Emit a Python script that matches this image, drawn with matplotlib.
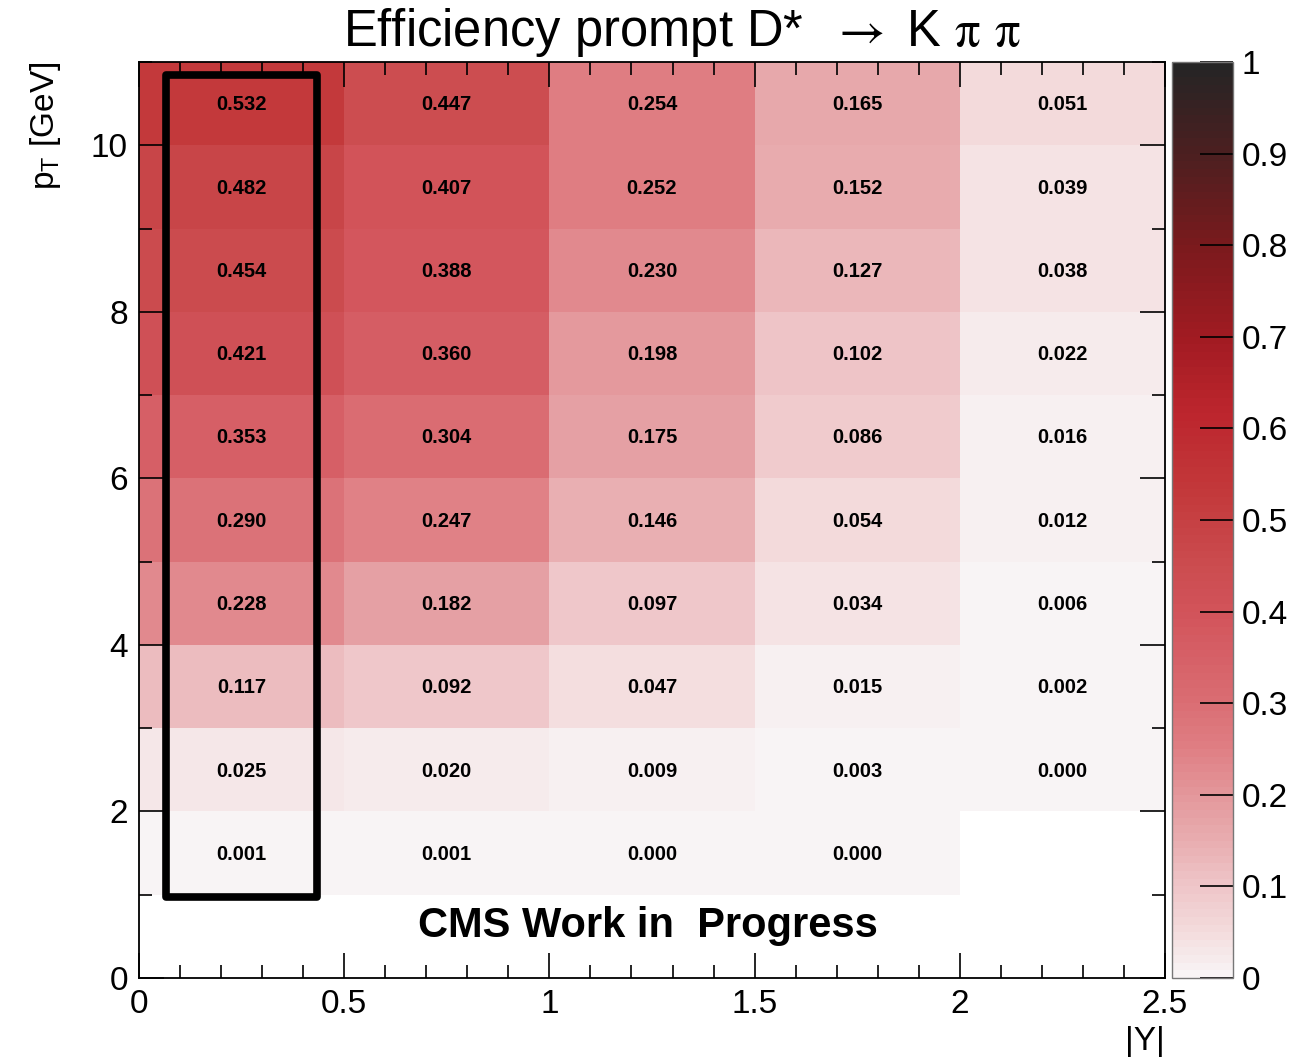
import matplotlib

matplotlib.use("Agg")
import matplotlib.pyplot as plt
from matplotlib.colors import LinearSegmentedColormap
from matplotlib.patches import FancyBboxPatch
from matplotlib.ticker import MultipleLocator
import numpy as np

# |Y| and pT bin edges
y_edges = [0.0, 0.5, 1.0, 1.5, 2.0, 2.5]
pt_edges = [1, 2, 3, 4, 5, 6, 7, 8, 9, 10, 11]

# efficiency per bin, rows from low pT (1-2 GeV) to high pT (10-11 GeV)
eff_rows = [
    [0.001, 0.001, 0.000, 0.000, np.nan],
    [0.025, 0.020, 0.009, 0.003, 0.000],
    [0.117, 0.092, 0.047, 0.015, 0.002],
    [0.228, 0.182, 0.097, 0.034, 0.006],
    [0.290, 0.247, 0.146, 0.054, 0.012],
    [0.353, 0.304, 0.175, 0.086, 0.016],
    [0.421, 0.360, 0.198, 0.102, 0.022],
    [0.454, 0.388, 0.230, 0.127, 0.038],
    [0.482, 0.407, 0.252, 0.152, 0.039],
    [0.532, 0.447, 0.254, 0.165, 0.051],
]

# highlighted |Y| < 0.5 column
box_lo = (0.067, 0.97)
box_hi = (0.434, 10.85)

x_ticks = [0, 0.5, 1, 1.5, 2, 2.5]
x_tick_labels = ["0", "0.5", "1", "1.5", "2", "2.5"]
y_ticks = [0, 2, 4, 6, 8, 10]
z_ticks = [0, 0.1, 0.2, 0.3, 0.4, 0.5, 0.6, 0.7, 0.8, 0.9, 1]
z_tick_labels = ["0", "0.1", "0.2", "0.3", "0.4", "0.5", "0.6", "0.7", "0.8", "0.9", "1"]

FONT = ["Liberation Sans", "DejaVu Sans"]


def make_palette():
    stops = [
        (0.00, "#f8f4f5"),
        (0.05, "#f3dadb"),
        (0.10, "#eec4c7"),
        (0.15, "#e8acaf"),
        (0.20, "#e3969a"),
        (0.25, "#df7e83"),
        (0.30, "#da6d73"),
        (0.40, "#d2535a"),
        (0.45, "#cb4c4f"),
        (0.53, "#c3393b"),
        (0.62, "#bc252d"),
        (0.70, "#a11b22"),
        (0.80, "#7b1a1d"),
        (0.90, "#4d1f20"),
        (1.00, "#252525"),
    ]
    return LinearSegmentedColormap.from_list("eff", stops, N=120)


plt.rcParams["font.family"] = FONT
plt.rcParams["mathtext.fontset"] = "custom"
plt.rcParams["mathtext.rm"] = "Liberation Sans"
plt.rcParams["mathtext.it"] = "Liberation Sans"

fig = plt.figure(figsize=(12.93, 10.62), dpi=100)
ax = fig.add_axes([0.1075, 0.0791, 0.7935, 0.8625])
cax = fig.add_axes([0.9064, 0.0791, 0.0472, 0.8625])

z = np.ma.masked_invalid(np.array(eff_rows, dtype=float))
mesh = ax.pcolormesh(y_edges, pt_edges, z, cmap=make_palette(), vmin=0, vmax=1)

for i, row in enumerate(eff_rows):
    for j, val in enumerate(row):
        if np.isnan(val):
            continue
        xc = 0.5 * (y_edges[j] + y_edges[j + 1])
        yc = 0.5 * (pt_edges[i] + pt_edges[i + 1])
        ax.text(xc, yc - 0.015, f"{val:.3f}", ha="center", va="center",
                fontsize=14.5, fontweight="bold", color="black")

box = FancyBboxPatch(box_lo, box_hi[0] - box_lo[0], box_hi[1] - box_lo[1],
                     boxstyle="square,pad=0", fill=False, edgecolor="black",
                     linewidth=5.5, joinstyle="round", zorder=5)
ax.add_patch(box)

ax.text(1.239, 0.62, "CMS Work in  Progress", ha="center", va="center",
        fontsize=30, fontweight="bold")

ax.set_xlim(0, 2.5)
ax.set_ylim(0, 11)
ax.set_xticks(x_ticks)
ax.set_xticklabels(x_tick_labels)
ax.set_yticks(y_ticks)
ax.xaxis.set_minor_locator(MultipleLocator(0.1))
ax.yaxis.set_minor_locator(MultipleLocator(1))
ax.tick_params(which="both", direction="in", top=True, right=True,
               labelsize=24, width=1.2, color="black")
ax.tick_params(which="major", length=18, pad=8)
ax.tick_params(which="minor", length=9.5)
for sp in ax.spines.values():
    sp.set_linewidth(1.3)

fig.text(0.527, 0.969,
         r"Efficiency prompt D*  $\rightarrow$ K $\mathrm{\pi}$ $\mathrm{\pi}$",
         ha="center", va="center", fontsize=36.5, math_fontfamily="stix")
fig.text(0.901, 0.005, "|Y|", ha="right", va="bottom", fontsize=24)
fig.text(0.035, 0.9416, r"p$_{\mathrm{T}}$ [GeV]", rotation=90,
         ha="center", va="top", fontsize=24)

cb = fig.colorbar(mesh, cax=cax)
cb.set_ticks(z_ticks)
cb.set_ticklabels(z_tick_labels)
cb.ax.tick_params(direction="in", length=24, width=1.2, labelsize=24, pad=6)
cb.outline.set_edgecolor("#777777")
cb.outline.set_linewidth(1.0)

fig.savefig("out.png", dpi=100)
plt.close(fig)
